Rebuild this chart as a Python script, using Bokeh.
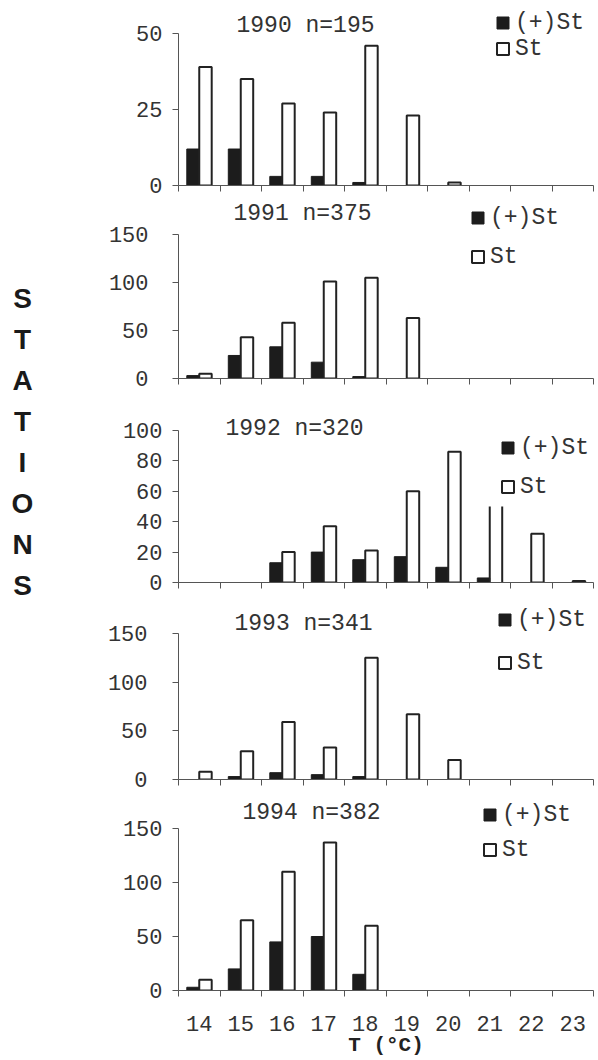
from bokeh.plotting import figure
from bokeh.models import Range1d, FixedTicker, Label, Legend, LegendItem, ColumnDataSource
from bokeh.transform import dodge
from bokeh.layouts import column, row
from bokeh.embed import file_html
from bokeh.resources import INLINE

# ---------------- data ----------------
temps = [14, 15, 16, 17, 18, 19, 20, 21, 22, 23]
years = [1990, 1991, 1992, 1993, 1994]
n_values = [195, 375, 320, 341, 382]

pos_1990 = [12, 12, 3, 3, 1, 0, 0, 0, 0, 0]
st_1990 = [39, 35, 27, 24, 46, 23, 1, 0, 0, 0]
pos_1991 = [3, 24, 33, 17, 2, 0, 0, 0, 0, 0]
st_1991 = [5, 43, 58, 101, 105, 63, 0, 0, 0, 0]
pos_1992 = [0, 0, 13, 20, 15, 17, 10, 3, 0, 0]
st_1992 = [0, 0, 20, 37, 21, 60, 86, 50, 32, 1]
pos_1993 = [0, 3, 7, 5, 3, 0, 0, 0, 0, 0]
st_1993 = [8, 29, 59, 33, 125, 67, 20, 0, 0, 0]
pos_1994 = [3, 20, 45, 50, 15, 0, 0, 0, 0, 0]
st_1994 = [10, 65, 110, 137, 60, 0, 0, 0, 0, 0]

y_max = [50, 150, 100, 150, 150]
y_ticks = [[0, 25, 50], [0, 50, 100, 150], [0, 20, 40, 60, 80, 100],
           [0, 50, 100, 150], [0, 50, 100, 150]]
open_top_cats = [[], [], [21], [], []]   # bar drawn with its sides only

legend_labels = ["(+)St", "St"]
y_label_text = "STATIONS"
x_label_text = "T (°C)"

pos_all = [pos_1990, pos_1991, pos_1992, pos_1993, pos_1994]
st_all = [st_1990, st_1991, st_1992, st_1993, st_1994]

# ---------------- layout / style ----------------
MONO = "Liberation Mono"
TXT = "#333333"
AX = "#555555"
LEFT_W = 50
PANEL_W = 546
# h: figure height, bot: bottom border, dpx: pixel height of the [0, ymax] span
lays = [
    dict(h=200, bot=15, dpx=152, tx=127, ty=160, lx=317, ly=(149.5, 123.5), sd=10),
    dict(h=192, bot=14, dpx=144, tx=124, ty=165, lx=292, ly=(147.5, 108.5), sd=24),
    dict(h=205, bot=15, dpx=152, tx=116, ty=154, lx=322, ly=(121.5, 82.5), sd=10),
    dict(h=196, bot=14, dpx=146, tx=125, ty=156, lx=319, ly=(146.5, 103.5), sd=25),
    dict(h=266, bot=69, dpx=162, tx=133, ty=178, lx=304, ly=(162.5, 127.5), sd=10),
]


def make_panel(i):
    lay = lays[i]
    last = i == len(years) - 1
    frame_h = lay["h"] - lay["bot"]
    y_end = y_max[i] * frame_h / lay["dpx"]
    p = figure(width=PANEL_W, height=lay["h"], x_range=Range1d(13.5, 23.5),
               y_range=Range1d(0, y_end), toolbar_location=None,
               output_backend="svg", min_border_left=128, min_border_right=3,
               min_border_top=0, min_border_bottom=lay["bot"])
    p.xgrid.visible = False
    p.ygrid.visible = False
    p.outline_line_color = None

    pos, st = pos_all[i], st_all[i]
    bsrc = ColumnDataSource(dict(t=[t for t, v in zip(temps, pos) if v > 0],
                                 v=[v for v in pos if v > 0]))
    wsel = [(t, v) for t, v in zip(temps, st) if v > 0 and t not in open_top_cats[i]]
    osel = [(t, v) for t, v in zip(temps, st) if v > 0 and t in open_top_cats[i]]
    wsrc = ColumnDataSource(dict(t=[a for a, b in wsel], v=[b for a, b in wsel]))
    osrc = ColumnDataSource(dict(t=[a for a, b in osel], v=[b for a, b in osel]))

    rb = p.vbar(x=dodge("t", -0.15), top="v", bottom=0, width=0.3, source=bsrc,
                fill_color="#1c1c1c", line_color="#1c1c1c", line_width=1)
    rw = p.vbar(x=dodge("t", 0.15), top="v", bottom=0, width=0.3, source=wsrc,
                fill_color="white", line_color="#222222", line_width=2)
    for off in (0.0, 0.3):
        p.segment(x0=dodge("t", off), y0=0, x1=dodge("t", off), y1="v", source=osrc,
                  line_color="#222222", line_width=2)

    xa = p.xaxis[0]
    bounds_ticks = [t - 0.5 for t in temps] + [temps[-1] + 0.5]
    xa.major_tick_out = 0
    xa.major_tick_in = 0
    xa.minor_tick_out = 6
    xa.minor_tick_in = 0
    xa.axis_line_color = AX
    xa.minor_tick_line_color = AX
    if last:
        xa.ticker = FixedTicker(ticks=temps, minor_ticks=bounds_ticks)
        xa.major_label_text_font = MONO
        xa.major_label_text_font_size = "22px"
        xa.major_label_text_color = TXT
        xa.major_label_standoff = 19
        xa.axis_label = x_label_text
        xa.axis_label_text_font = MONO
        xa.axis_label_text_font_style = "bold"
        xa.axis_label_text_font_size = "21px"
        xa.axis_label_text_color = "#222222"
        xa.axis_label_standoff = 0
    else:
        xa.ticker = FixedTicker(ticks=[], minor_ticks=bounds_ticks)
        xa.major_label_standoff = 0

    ya = p.yaxis[0]
    ya.ticker = FixedTicker(ticks=y_ticks[i])
    ya.bounds = (0, y_max[i])
    ya.major_tick_out = 6
    ya.major_tick_in = 0
    ya.minor_tick_out = 0
    ya.minor_tick_in = 0
    ya.axis_line_color = AX
    ya.major_tick_line_color = AX
    ya.major_label_text_font = MONO
    ya.major_label_text_font_size = "22px"
    ya.major_label_text_color = TXT
    ya.major_label_standoff = lay["sd"]

    p.add_layout(Label(x=lay["tx"], y=lay["ty"], x_units="screen", y_units="screen",
                       text=f"{years[i]} n={n_values[i]}", text_align="center",
                       text_baseline="middle", text_font=MONO, text_font_size="23px",
                       text_color=TXT))

    for k, r in enumerate([rb, rw]):
        leg = Legend(items=[LegendItem(label=legend_labels[k], renderers=[r])],
                     location=(lay["lx"], lay["ly"][k]), orientation="vertical",
                     border_line_color=None, background_fill_alpha=0,
                     padding=0, margin=0, spacing=0, glyph_width=15, glyph_height=15,
                     label_standoff=5, label_height=15, label_text_font=MONO,
                     label_text_font_size="23px", label_text_color=TXT)
        p.add_layout(leg)
    return p


panels = [make_panel(i) for i in range(len(years))]

total_h = sum(l["h"] for l in lays)
lf = figure(width=LEFT_W, height=total_h, x_range=Range1d(0, 1), y_range=Range1d(0, 1),
            toolbar_location=None, output_backend="svg", min_border=0,
            x_axis_location=None, y_axis_location=None)
lf.xgrid.visible = False
lf.ygrid.visible = False
lf.outline_line_color = None
for k, ch in enumerate(y_label_text):
    lf.add_layout(Label(x=22, y=total_h - (298 + 41 * k), x_units="screen", y_units="screen",
                        text=ch, text_align="center", text_baseline="middle",
                        text_font="Liberation Sans", text_font_style="bold",
                        text_font_size="28px", text_color="#1a1a1a"))

layout = row(lf, column(*panels, spacing=0), spacing=0)
open("out.html", "w").write(file_html(layout, INLINE))
